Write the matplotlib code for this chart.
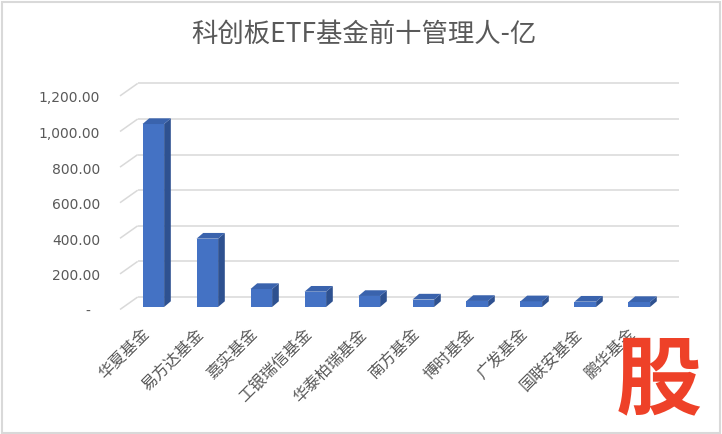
import matplotlib
matplotlib.use("Agg")
import matplotlib.pyplot as plt
from matplotlib.transforms import ScaledTranslation
from matplotlib.patches import Polygon, Rectangle

plt.rcParams['font.family'] = ['Noto Sans CJK SC', 'DejaVu Sans']

# ---- data ----
title = "科创板ETF基金前十管理人-亿"
managers = ["华夏基金", "易方达基金", "嘉实基金", "工银瑞信基金", "华泰柏瑞基金",
            "南方基金", "博时基金", "广发基金", "国联安基金", "鹏华基金"]
values = [1028, 384, 101, 86, 62, 42, 34, 32, 30, 28]
yticks = [0, 200, 400, 600, 800, 1000, 1200]
ytick_labels = ["-", "200.00", "400.00", "600.00", "800.00", "1,000.00", "1,200.00"]

# ---- style ----
W, H, DPI = 722, 434, 100
front_c = "#4472C4"
side_c = "#2E5190"
top_c = "#3A63AD"
grid_c = "#D9D9D9"
text_c = "#595959"

fig = plt.figure(figsize=(W / DPI, H / DPI), dpi=DPI)
fig.patch.set_facecolor("white")

# axes box in pixels (front plane of bars)
L, R, B, T = 120, 680, 307, 93.4
ax = fig.add_axes([L / W, 1 - B / H, (R - L) / W, (B - T) / H])
ax.set_xlim(-0.617, 9.754)
ax.set_ylim(0, 1200)
ax.axis("off")

def off(dx_px, dy_px):
    return ax.transData + ScaledTranslation(dx_px / DPI, dy_px / DPI, fig.dpi_scale_trans)

# unit conversions (data units per pixel)
ux = (ax.get_xlim()[1] - ax.get_xlim()[0]) / (R - L)
uy = 1200 / (B - T)

xmin = ax.get_xlim()[0]
xback_right = xmin + (678.7 - L) * ux

# gridlines (side wall diagonal + back wall)
for v in yticks:
    ax.plot([xmin, xmin + 17.7 * ux], [v - 2.5 * uy, v + 10 * uy],
            color=grid_c, lw=1.1, clip_on=False, solid_capstyle="butt")
    ax.plot([xmin + 17.7 * ux, xback_right], [v + 10 * uy, v + 10 * uy],
            color=grid_c, lw=1.1, clip_on=False, solid_capstyle="butt")

# y tick labels
for v, lab in zip(yticks, ytick_labels):
    dx = -20 if lab != "-" else -30
    ax.text(xmin, v, lab, transform=off(dx, -5), ha="right", va="center",
            fontsize=10, color=text_c, family=["DejaVu Sans"])

# 3D bars
w = 0.40
ddx, ddy = 6.7 * ux, 5.7 * uy
xs = list(range(len(values)))
ax.bar(xs, values, width=w, color=front_c, edgecolor="none", clip_on=False, zorder=3)
for x, v in zip(xs, values):
    side = Polygon([(x + w / 2, 0), (x + w / 2 + ddx, ddy), (x + w / 2 + ddx, v + ddy),
                    (x + w / 2, v)], closed=True, facecolor=side_c, edgecolor="none",
                   clip_on=False, zorder=3)
    top = Polygon([(x - w / 2, v), (x + w / 2, v), (x + w / 2 + ddx, v + ddy),
                   (x - w / 2 + ddx, v + ddy)], closed=True, facecolor=top_c,
                  edgecolor="none", clip_on=False, zorder=3)
    ax.add_patch(side)
    ax.add_patch(top)

# category labels
for x, name in zip(xs, managers):
    ax.text(x, 0, name, transform=off(-5.5, -25), rotation=45, rotation_mode="anchor",
            ha="right", va="center", fontsize=11.5, color=text_c)

# title
fig.text(364 / W, 1 - 34 / H, title, ha="center", va="center", fontsize=19,
         fontweight="medium", color=text_c)

# watermark logo
fig.text(659 / W, 1 - 382 / H, "股", ha="center", va="center", fontsize=62,
         fontweight="bold", color="#EE4128", zorder=10)

# chart border
fig.patches.append(Rectangle((1.5 / W, 1.5 / H), (W - 3.5) / W, (H - 3.5) / H,
                             transform=fig.transFigure, fill=False, edgecolor=grid_c, lw=1.5))

fig.savefig("out.png", dpi=DPI)
